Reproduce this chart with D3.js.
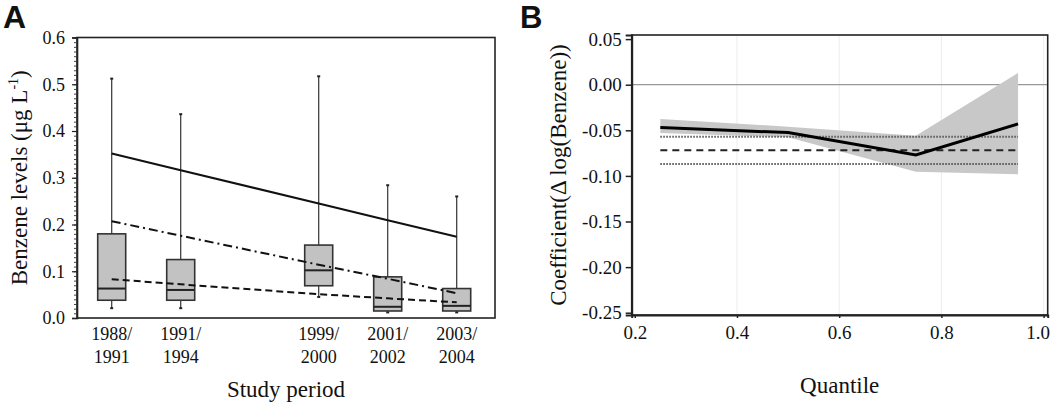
<!DOCTYPE html>
<html>
<head>
<meta charset="utf-8">
<script src="https://cdn.jsdelivr.net/npm/d3@7"></script>
<style>
  body { margin: 0; background: #fff; }
  text { font-family: "Liberation Serif", "DejaVu Serif", serif; fill: #111; }
  text.panel { font-family: "Liberation Sans", Arial, sans-serif; font-weight: bold; }
</style>
</head>
<body>
<svg id="chart" width="1050" height="407"></svg>
<script>
// Panel A: benzene levels per study period
const periods = ["1988/1991", "1991/1994", "1999/2000", "2001/2002", "2003/2004"];
const periodPos = [0, 1, 3, 4, 5];
const whiskerLow = [0.021, 0.021, 0.045, 0.012, 0.012];
const q1 = [0.038, 0.038, 0.069, 0.015, 0.015];
const median = [0.063, 0.060, 0.102, 0.024, 0.026];
const q3 = [0.180, 0.125, 0.156, 0.088, 0.063];
const whiskerHigh = [0.512, 0.436, 0.517, 0.284, 0.260];
const trendSolid = [0.352, 0.316, 0.245, 0.209, 0.174];
const trendDashDot = [0.207, 0.176, 0.114, 0.084, 0.053];
const trendDashed = [0.083, 0.072, 0.051, 0.042, 0.0335];
const yTicksA = [0, 0.1, 0.2, 0.3, 0.4, 0.5, 0.6];

// Panel B: quantile regression
const quantiles = [0.25, 0.5, 0.75, 0.95];
const coef = [-0.047, -0.0525, -0.077, -0.043];
const ciLow = [-0.053, -0.0575, -0.0953, -0.0982];
const ciHigh = [-0.0377, -0.046, -0.056, 0.0128];
const olsCoef = -0.072;
const olsLow = -0.087;
const olsHigh = -0.057;
const xTicksB = [0.2, 0.4, 0.6, 0.8, 1.0];
const yTicksB = [0.05, 0, -0.05, -0.10, -0.15, -0.20, -0.25];

const serif = '"Liberation Serif", "DejaVu Serif", serif';
const svg = d3.select("#chart");

// ---------- Panel A ----------
const a = { left: 77, right: 495, top: 37.5, bottom: 318 };
const xA = d3.scaleLinear().domain([-0.503, 5.555]).range([a.left, a.right]);
const yA = d3.scaleLinear().domain([0, 0.6]).range([a.bottom, a.top]);
const gA = svg.append("g");

// frame
gA.append("rect")
  .attr("x", a.left).attr("y", a.top)
  .attr("width", a.right - a.left).attr("height", a.bottom - a.top)
  .attr("fill", "none").attr("stroke", "#222").attr("stroke-width", 1.6);

// minor ticks
gA.append("g")
  .attr("transform", `translate(${a.left},0)`)
  .call(d3.axisLeft(yA).ticks(60).tickSize(3).tickFormat(""))
  .call(g => g.select(".domain").remove())
  .call(g => g.selectAll("line").attr("stroke", "#444"));

// major ticks + labels
gA.append("g")
  .attr("transform", `translate(${a.left},0)`)
  .call(d3.axisLeft(yA).tickValues(yTicksA).tickSize(5).tickPadding(7).tickFormat(d3.format(".1f")))
  .call(g => g.select(".domain").attr("stroke", "#222").attr("stroke-width", 1.6))
  .call(g => g.selectAll("line").attr("stroke", "#222").attr("stroke-width", 1.2))
  .call(g => g.selectAll("text").style("font-family", serif).style("font-size", "18px"));

// x labels (two lines)
periods.forEach((p, i) => {
  const parts = p.split("/");
  const t = gA.append("text")
    .attr("x", xA(periodPos[i]))
    .attr("text-anchor", "middle")
    .attr("font-size", 18);
  t.append("tspan").attr("x", xA(periodPos[i])).attr("y", 340).text(parts[0] + "/");
  t.append("tspan").attr("x", xA(periodPos[i])).attr("y", 363).text(parts[1]);
});

// boxes
const boxW = 28;
periodPos.forEach((pos, i) => {
  const cx = xA(pos);
  gA.append("line")
    .attr("x1", cx).attr("x2", cx)
    .attr("y1", yA(whiskerLow[i])).attr("y2", yA(whiskerHigh[i]))
    .attr("stroke", "#333").attr("stroke-width", 1.2);
  [whiskerLow[i], whiskerHigh[i]].forEach(v => {
    gA.append("line")
      .attr("x1", cx - 1.5).attr("x2", cx + 1.5)
      .attr("y1", yA(v)).attr("y2", yA(v))
      .attr("stroke", "#222").attr("stroke-width", 2);
  });
  gA.append("rect")
    .attr("x", cx - boxW / 2).attr("width", boxW)
    .attr("y", yA(q3[i])).attr("height", yA(q1[i]) - yA(q3[i]))
    .attr("fill", "#c2c2c2").attr("stroke", "#333").attr("stroke-width", 1.6);
  gA.append("line")
    .attr("x1", cx - boxW / 2).attr("x2", cx + boxW / 2)
    .attr("y1", yA(median[i])).attr("y2", yA(median[i]))
    .attr("stroke", "#222").attr("stroke-width", 2);
});

// trend lines
const lineA = d3.line().x((d, i) => xA(periodPos[i])).y(d => yA(d));
[[trendSolid, null], [trendDashDot, "9,4,2,4"], [trendDashed, "7,4"]].forEach(([vals, dash]) => {
  gA.append("path")
    .datum(vals)
    .attr("d", lineA)
    .attr("fill", "none")
    .attr("stroke", "#111")
    .attr("stroke-width", 2)
    .attr("stroke-dasharray", dash);
});

// titles
gA.append("text")
  .attr("x", (a.left + a.right) / 2).attr("y", 397)
  .attr("text-anchor", "middle").attr("font-size", 23)
  .text("Study period");

const yLabA = gA.append("text")
  .attr("transform", `translate(27,${(a.top + a.bottom) / 2}) rotate(-90)`)
  .attr("text-anchor", "middle").attr("font-size", 23);
yLabA.append("tspan").text("Benzene levels (μg L");
yLabA.append("tspan").attr("font-size", 14).attr("dy", -9).text("-1");
yLabA.append("tspan").attr("dy", 9).text(")");

svg.append("text")
  .attr("class", "panel")
  .attr("x", 3).attr("y", 28)
  .attr("font-size", 32)
  .text("A");

// ---------- Panel B ----------
const b = { left: 631.7, right: 1047.7, top: 35, bottom: 315 };
const xB = d3.scaleLinear().domain([0.194, 1.008]).range([b.left, b.right]);
const yB = d3.scaleLinear().domain([-0.2525, 0.0545]).range([b.bottom, b.top]);
const gB = svg.append("g");

// vertical grid
gB.append("g")
  .selectAll("line")
  .data(xTicksB.slice(1))
  .join("line")
  .attr("x1", d => xB(d)).attr("x2", d => xB(d))
  .attr("y1", b.top).attr("y2", b.bottom)
  .attr("stroke", "#ececec").attr("stroke-width", 1);

// zero line
gB.append("line")
  .attr("x1", b.left).attr("x2", b.right)
  .attr("y1", yB(0)).attr("y2", yB(0))
  .attr("stroke", "#999").attr("stroke-width", 1.2);

// confidence band
gB.append("path")
  .datum(quantiles)
  .attr("d", d3.area()
    .x(d => xB(d))
    .y0((d, i) => yB(ciLow[i]))
    .y1((d, i) => yB(ciHigh[i])))
  .attr("fill", "#c8c8c8");

// OLS estimate and CI
const qExtent = d3.extent(quantiles);
[[olsHigh, "#555", "1.5,1.5"], [olsCoef, "#222", "7,5"], [olsLow, "#555", "1.5,1.5"]].forEach(([v, c, dash]) => {
  gB.append("line")
    .attr("x1", xB(qExtent[0])).attr("x2", xB(qExtent[1]))
    .attr("y1", yB(v)).attr("y2", yB(v))
    .attr("stroke", c).attr("stroke-width", 2)
    .attr("stroke-dasharray", dash);
});

// quantile coefficients
gB.append("path")
  .datum(coef)
  .attr("d", d3.line().x((d, i) => xB(quantiles[i])).y(d => yB(d)))
  .attr("fill", "none").attr("stroke", "#000").attr("stroke-width", 3);

// frame
gB.append("rect")
  .attr("x", b.left).attr("y", b.top)
  .attr("width", b.right - b.left).attr("height", b.bottom - b.top)
  .attr("fill", "none").attr("stroke", "#222").attr("stroke-width", 1.6);

gB.append("g")
  .attr("transform", `translate(${b.left},0)`)
  .call(d3.axisLeft(yB).tickValues(yTicksB).tickSize(6).tickPadding(4).tickFormat(d3.format(".2f")))
  .call(g => g.select(".domain").attr("stroke", "#222").attr("stroke-width", 2))
  .call(g => g.selectAll("line").attr("stroke", "#222").attr("stroke-width", 1.5))
  .call(g => g.selectAll("text").style("font-family", serif).style("font-size", "19px")
    .text(d => d3.format(".2f")(d).replace("−", "-")));

gB.append("g")
  .attr("transform", `translate(0,${b.bottom})`)
  .call(d3.axisBottom(xB).tickValues(xTicksB).tickSize(3).tickPadding(8).tickFormat(d3.format(".1f")))
  .call(g => g.select(".domain").attr("stroke", "#222").attr("stroke-width", 2))
  .call(g => g.selectAll("line").attr("stroke", "#222").attr("stroke-width", 1.5))
  .call(g => g.selectAll("text").style("font-family", serif).style("font-size", "19px")
    .attr("dx", d => d === 1.0 ? -6 : 0));

gB.append("text")
  .attr("x", (b.left + b.right) / 2).attr("y", 393)
  .attr("text-anchor", "middle").attr("font-size", 23)
  .text("Quantile");

gB.append("text")
  .attr("transform", `translate(566,${(b.top + b.bottom) / 2}) rotate(-90)`)
  .attr("text-anchor", "middle").attr("font-size", 23)
  .text("Coefficient(Δ log(Benzene))");

svg.append("text")
  .attr("class", "panel")
  .attr("x", 520).attr("y", 28)
  .attr("font-size", 31)
  .text("B");
</script>
</body>
</html>
